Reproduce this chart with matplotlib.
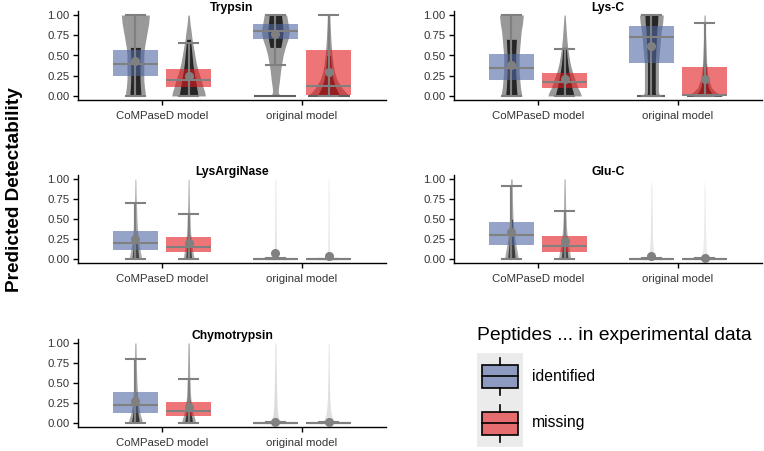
import numpy as np
import matplotlib
matplotlib.use("Agg")  # headless
import matplotlib.pyplot as plt
from matplotlib.colors import to_rgba
from matplotlib.patches import Rectangle
from matplotlib.lines import Line2D
from matplotlib.legend_handler import HandlerBase

plt.rcParams["font.family"] = ["Liberation Sans", "DejaVu Sans"]

enzymes = ["Trypsin", "Lys-C", "LysArgiNase", "Glu-C", "Chymotrypsin"]
models = ["CoMPaseD model", "original model"]
groups = ["identified", "missing"]

# per enzyme: [CoMPaseD-identified, CoMPaseD-missing, original-identified, original-missing]
q1 = [[0.244, 0.115, 0.70, 0.008],
      [0.198, 0.100, 0.405, 0.004],
      [0.112, 0.087, 0.0, 0.0],
      [0.170, 0.087, 0.0, 0.0],
      [0.120, 0.083, 0.0, 0.0]]
med = [[0.400, 0.200, 0.805, 0.120],
       [0.347, 0.170, 0.730, 0.012],
       [0.203, 0.153, 0.0, 0.0],
       [0.295, 0.158, 0.0, 0.0],
       [0.223, 0.145, 0.002, 0.002]]
q3 = [[0.574, 0.330, 0.890, 0.574],
      [0.517, 0.285, 0.860, 0.360],
      [0.344, 0.270, 0.004, 0.003],
      [0.465, 0.286, 0.004, 0.003],
      [0.384, 0.260, 0.006, 0.005]]
whislo = [[0.005, 0.005, 0.38, 0.0],
          [0.005, 0.005, 0.003, 0.0],
          [0.005, 0.005, 0.0, 0.0],
          [0.005, 0.005, 0.0, 0.0],
          [0.005, 0.005, 0.0, 0.0]]
whishi = [[1.0, 0.66, 1.0, 1.0],
          [1.0, 0.58, 1.0, 0.90],
          [0.705, 0.564, 0.008, 0.006],
          [0.917, 0.602, 0.010, 0.008],
          [0.800, 0.554, 0.012, 0.010]]
means = [[0.43, 0.245, 0.76, 0.29],
         [0.38, 0.207, 0.615, 0.207],
         [0.25, 0.203, 0.07, 0.04],
         [0.336, 0.22, 0.033, 0.015],
         [0.27, 0.20, 0.01, 0.015]]

# jittered peptide clouds: half-width (x units) at each level
cloud_levels = [0, 0.05, 0.1, 0.2, 0.3, 0.4, 0.5, 0.6, 0.7, 0.8, 0.9, 1.0]
cloud_width = [
    [[0.07, 0.07, 0.065, 0.06, 0.06, 0.06, 0.06, 0.065, 0.075, 0.085, 0.095, 0.10],
     [0.12, 0.115, 0.105, 0.09, 0.07, 0.055, 0.045, 0.035, 0.025, 0.018, 0.01, 0.005],
     [0.03, 0.02, 0.022, 0.03, 0.036, 0.045, 0.055, 0.07, 0.09, 0.10, 0.09, 0.08],
     [0.15, 0.12, 0.095, 0.06, 0.042, 0.032, 0.025, 0.02, 0.016, 0.013, 0.01, 0.008]],
    [[0.075, 0.07, 0.065, 0.06, 0.055, 0.055, 0.055, 0.06, 0.065, 0.07, 0.08, 0.085],
     [0.12, 0.11, 0.095, 0.075, 0.055, 0.04, 0.03, 0.022, 0.016, 0.012, 0.008, 0.004],
     [0.06, 0.05, 0.05, 0.05, 0.05, 0.05, 0.055, 0.06, 0.065, 0.07, 0.08, 0.085],
     [0.13, 0.08, 0.05, 0.03, 0.02, 0.015, 0.012, 0.01, 0.008, 0.006, 0.005, 0.004]],
    [[0.045, 0.04, 0.035, 0.025, 0.018, 0.014, 0.011, 0.009, 0.007, 0.005, 0.004, 0.003],
     [0.04, 0.035, 0.03, 0.022, 0.016, 0.012, 0.01, 0.008, 0.006, 0.005, 0.004, 0.003],
     [0.03, 0.012, 0.009, 0.007, 0.006, 0.005, 0.005, 0.004, 0.004, 0.004, 0.003, 0.003],
     [0.03, 0.012, 0.009, 0.007, 0.006, 0.005, 0.005, 0.004, 0.004, 0.004, 0.003, 0.003]],
    [[0.05, 0.045, 0.04, 0.03, 0.022, 0.016, 0.012, 0.01, 0.008, 0.007, 0.006, 0.005],
     [0.045, 0.04, 0.035, 0.025, 0.018, 0.013, 0.01, 0.008, 0.007, 0.006, 0.005, 0.004],
     [0.04, 0.02, 0.014, 0.01, 0.008, 0.007, 0.006, 0.005, 0.004, 0.004, 0.003, 0.0],
     [0.04, 0.02, 0.014, 0.01, 0.008, 0.007, 0.006, 0.005, 0.004, 0.004, 0.003, 0.0]],
    [[0.05, 0.045, 0.035, 0.025, 0.018, 0.014, 0.011, 0.009, 0.007, 0.006, 0.005, 0.004],
     [0.05, 0.045, 0.035, 0.022, 0.016, 0.012, 0.01, 0.008, 0.007, 0.006, 0.005, 0.004],
     [0.05, 0.025, 0.018, 0.012, 0.01, 0.008, 0.007, 0.006, 0.005, 0.004, 0.004, 0.003],
     [0.05, 0.03, 0.02, 0.012, 0.009, 0.007, 0.006, 0.005, 0.004, 0.004, 0.003, 0.003]],
]
# y range where the points pile up into a solid black core
cloud_core = [[(0, 0.65), (0, 0.75), (0.6, 1.0), (0, 0.5)],
              [(0, 0.75), (0, 0.6), (0, 1.0), (0, 0.4)],
              [(0, 0.3), (0, 0.3), (0, 0.03), (0, 0.03)],
              [(0, 0.5), (0, 0.35), (0, 0.05), (0, 0.05)],
              [(0, 0.3), (0, 0.3), (0, 0.05), (0, 0.05)]]
cloud_alpha = [[1, 1, 1, 1],
               [1, 1, 1, 1],
               [0.8, 0.8, 0.25, 0.2],
               [0.85, 0.8, 0.25, 0.2],
               [0.9, 0.9, 0.35, 0.3]]
# peptides sitting exactly at 0 spread out into a flat line
zero_spread = [[0, 0, 0.15, 0.15],
               [0, 0, 0.10, 0.125],
               [0, 0, 0.15, 0.15],
               [0, 0, 0.15, 0.15],
               [0, 0, 0.15, 0.15]]

fills = [to_rgba("#4d66a3", 0.6), to_rgba("#e41a1c", 0.6)]
GREY = "#808080"
TXT = "#333333"

W, H = 764, 451
fig = plt.figure(figsize=(W / 100, H / 100), dpi=100)

# panel rectangles in pixels: left, top, right, bottom
panel_px = [(78, 11, 386, 100), (454, 11, 762, 100),
            (78, 175, 386, 263), (454, 175, 762, 263),
            (78, 339, 386, 427)]

lv = np.array(cloud_levels)
for e, name in enumerate(enzymes):
    l, t, r, b = panel_px[e]
    ax = fig.add_axes([l / W, 1 - b / H, (r - l) / W, (b - t) / H])
    ax.set_xlim(0.4, 2.6)
    ax.set_ylim(-0.05, 1.05)

    for gi in range(4):
        m, g = divmod(gi, 2)
        pos = (m + 1) + (-0.19 if g == 0 else 0.19)
        w = np.array(cloud_width[e][gi])
        a = cloud_alpha[e][gi]
        lo, hi = cloud_core[e][gi]
        ax.fill_betweenx(lv, pos - w, pos + w, color="black",
                         alpha=0.4 * a, lw=0, zorder=1)
        ax.fill_betweenx(lv, pos - 0.55 * w, pos + 0.55 * w, where=(lv >= lo) & (lv <= hi),
                         color="black", alpha=0.75 * a, lw=0, zorder=1)
        z = zero_spread[e][gi]
        if z > 0:
            ax.hlines(0, pos - z, pos + z, color="#606060", lw=1.5, zorder=2)

        stats = [dict(q1=q1[e][gi], med=med[e][gi], q3=q3[e][gi],
                      whislo=whislo[e][gi], whishi=whishi[e][gi],
                      mean=means[e][gi], fliers=[])]
        ax.bxp(stats, positions=[pos], widths=0.32, capwidths=0.14,
               patch_artist=True, showmeans=True, showfliers=False,
               manage_ticks=False,
               boxprops=dict(facecolor=fills[g], edgecolor="none", lw=0, zorder=3),
               medianprops=dict(color=GREY, lw=1.5, zorder=4),
               whiskerprops=dict(color=GREY, lw=1.5, zorder=4),
               capprops=dict(color=GREY, lw=1.5, zorder=4),
               meanprops=dict(marker="o", markerfacecolor=GREY, markeredgecolor=GREY,
                              markersize=5.5, zorder=5))
        # whisker line runs through the box as well
        ax.vlines(pos, whislo[e][gi], whishi[e][gi], color=GREY, lw=1.5, zorder=4)

    ax.set_xticks([1, 2])
    ax.set_xticklabels(models)
    ax.set_yticks([0, 0.25, 0.5, 0.75, 1.0])
    ax.set_yticklabels(["0.00", "0.25", "0.50", "0.75", "1.00"])
    ax.tick_params(labelsize=8.2, labelcolor=TXT, length=3.5, width=1)
    ax.tick_params(axis="x", pad=4.5)
    ax.tick_params(axis="y", pad=2.5)
    for s in ["top", "right"]:
        ax.spines[s].set_visible(False)
    for s in ["left", "bottom"]:
        ax.spines[s].set_linewidth(1)
    ax.set_title(name, fontsize=8.7, fontweight="bold", y=1.0, pad=0)

fig.text(15 / W, 1 - 190 / H, "Predicted Detectability", rotation=90,
         fontsize=13.7, fontweight="bold", ha="center", va="center")


class BoxHandler(HandlerBase):
    def create_artists(self, legend, orig_handle, xdescent, ydescent,
                       width, height, fontsize, trans):
        x0, y0 = -xdescent, -ydescent
        cx, cy = x0 + width / 2, y0 + height / 2
        bw, bh = 0.78 * width, 0.5 * height
        bg = Rectangle((x0, y0), width, height, facecolor="#ebebeb",
                       edgecolor="none", transform=trans)
        box = Rectangle((cx - bw / 2, cy - bh / 2), bw, bh,
                        facecolor=orig_handle.get_facecolor(), edgecolor="black",
                        lw=1.2, transform=trans)
        medl = Line2D([cx - bw / 2, cx + bw / 2], [cy, cy], color="black",
                      lw=1.2, transform=trans)
        lo = Line2D([cx, cx], [y0 + 0.1 * height, cy - bh / 2], color="black",
                    lw=1.2, transform=trans)
        hi = Line2D([cx, cx], [cy + bh / 2, y0 + 0.9 * height], color="black",
                    lw=1.2, transform=trans)
        return [bg, box, medl, lo, hi]


fig.text(477 / W, 1 - 335 / H, "Peptides ... in experimental data",
         fontsize=13.9, ha="left", va="center")
handles = [Rectangle((0, 0), 1, 1, facecolor=f) for f in fills]
fig.legend(handles, groups, handler_map={Rectangle: BoxHandler()},
           loc="upper left", bbox_to_anchor=(477 / W, 1 - 353 / H),
           frameon=False, fontsize=11.3, handlelength=2.93, handleheight=4.22,
           labelspacing=0, handletextpad=0.57, borderpad=0, borderaxespad=0)

fig.savefig("out.png", dpi=100)
